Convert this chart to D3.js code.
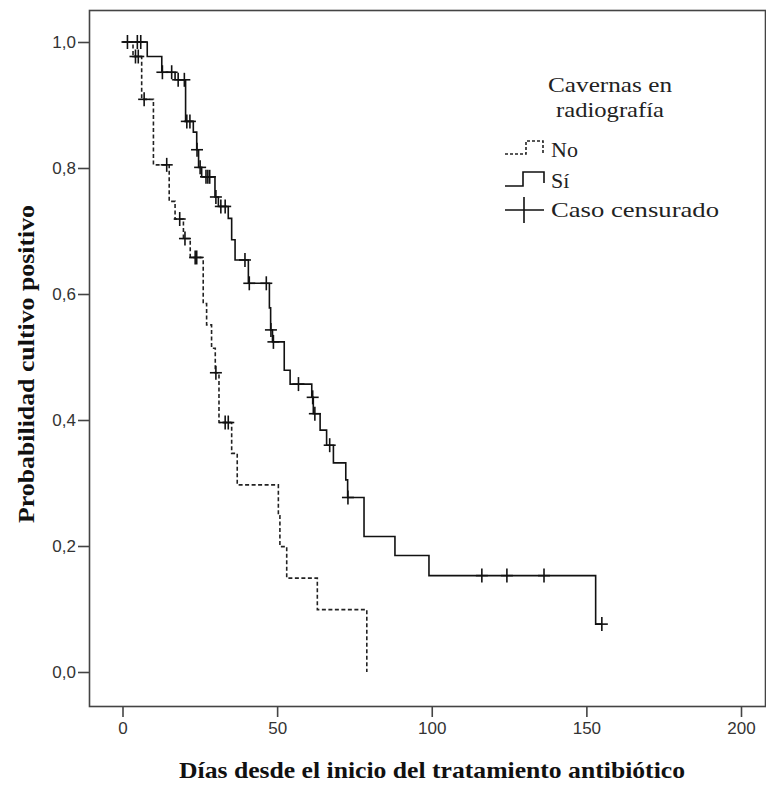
<!DOCTYPE html>
<html>
<head>
<meta charset="utf-8">
<script src="https://cdn.jsdelivr.net/npm/d3@7"></script>
<style>
  body { margin: 0; background: #fff; }
  svg { display: block; }
</style>
</head>
<body>
<div id="chart"></div>
<script>
// Kaplan-Meier steps (days, survival after the step)
const noTimes = [0, 3.4, 6.2, 10.0, 15.1, 17.0, 19.7, 21.9, 26.1, 27.2, 28.8, 30.0, 31.2, 35.3, 37.1, 50.4, 50.9, 53.1, 63.0, 79.0];
const noSurv  = [1.0, 0.977, 0.909, 0.805, 0.747, 0.719, 0.688, 0.658, 0.585, 0.551, 0.514, 0.475, 0.396, 0.347, 0.297, 0.248, 0.199, 0.149, 0.099, 0.0];
const noCensored = [4.2, 5.1, 7.0, 14.3, 18.5, 20.2, 23.5, 24.0, 30.2, 33.2, 34.2];

const siTimes = [0, 8.0, 12.7, 17.0, 20.4, 22.9, 24.0, 24.6, 25.6, 29.9, 31.0, 34.2, 35.3, 36.4, 40.7, 47.5, 47.9, 48.5, 52.3, 54.2, 61.2, 61.7, 63.9, 66.0, 68.2, 72.2, 72.8, 78.1, 88.1, 99.1, 153.0, 155.0];
const siSurv  = [1.0, 0.977, 0.952, 0.940, 0.874, 0.857, 0.829, 0.801, 0.786, 0.754, 0.739, 0.720, 0.686, 0.654, 0.617, 0.578, 0.543, 0.524, 0.479, 0.457, 0.436, 0.410, 0.384, 0.360, 0.332, 0.305, 0.277, 0.215, 0.185, 0.153, 0.076, 0.076];
const siCensored = [1.6, 4.8, 5.9, 12.9, 15.9, 18.0, 20.0, 20.8, 21.8, 24.1, 25.1, 27.0, 27.6, 28.2, 30.2, 31.8, 33.2, 39.6, 41.0, 46.5, 48.0, 48.8, 56.9, 61.5, 62.2, 67.0, 72.9, 116.2, 124.3, 136.3, 155.0];

const xTicks = [0, 50, 100, 150, 200];
const yTicks = [0, 0.2, 0.4, 0.6, 0.8, 1.0];

const legendTitle = ["Cavernas en", "radiografía"];
const legendLabels = ["No", "Sí", "Caso censurado"];

const width = 766, height = 785;
const frame = {left: 89, top: 10, right: 765, bottom: 706};

const x = d3.scaleLinear().domain([0, 200]).range([122.5, 741]);
const y = d3.scaleLinear().domain([0, 1]).range([672, 42]);

const sans = "'Liberation Sans', Arial, sans-serif";
const serif = "'Liberation Serif', 'Times New Roman', serif";

const svg = d3.select("#chart").append("svg")
    .attr("width", width)
    .attr("height", height);

// plot frame
svg.append("rect")
    .attr("x", frame.left + 0.5)
    .attr("y", frame.top + 0.5)
    .attr("width", frame.right - frame.left)
    .attr("height", frame.bottom - frame.top)
    .attr("fill", "none")
    .attr("stroke", "#444")
    .attr("stroke-width", 1.6);

const fmt = d => d3.format(".1f")(d).replace(".", ",");

// x axis
svg.append("g")
    .attr("transform", `translate(0,${frame.bottom + 1})`)
    .call(d3.axisBottom(x).tickValues(xTicks).tickSize(10).tickPadding(5))
    .call(g => g.select(".domain").remove())
    .call(g => g.selectAll("line").attr("stroke", "#444").attr("stroke-width", 1.6))
    .call(g => g.selectAll("text").attr("fill", "#333")
        .style("font-family", sans).style("font-size", "17px"));

// y axis
svg.append("g")
    .attr("transform", `translate(${frame.left},0)`)
    .call(d3.axisLeft(y).tickValues(yTicks).tickFormat(fmt).tickSize(11).tickPadding(2))
    .call(g => g.select(".domain").remove())
    .call(g => g.selectAll("line").attr("stroke", "#444").attr("stroke-width", 1.6))
    .call(g => g.selectAll("text").attr("fill", "#333")
        .style("font-family", sans).style("font-size", "17px"));

// axis titles
svg.append("text")
    .attr("x", 432).attr("y", 778)
    .attr("text-anchor", "middle")
    .attr("textLength", 506).attr("lengthAdjust", "spacingAndGlyphs")
    .style("font-family", serif)
    .style("font-weight", "bold").style("font-size", "24px")
    .attr("fill", "#111")
    .text("Días desde el inicio del tratamiento antibiótico");

svg.append("text")
    .attr("transform", "translate(34,364) rotate(-90)")
    .attr("text-anchor", "middle")
    .attr("textLength", 318).attr("lengthAdjust", "spacingAndGlyphs")
    .style("font-family", serif)
    .style("font-weight", "bold").style("font-size", "24px")
    .attr("fill", "#111")
    .text("Probabilidad cultivo positivo");

// step curves
const line = d3.line()
    .x(d => x(d[0]))
    .y(d => y(d[1]))
    .curve(d3.curveStepAfter);

const noData = noTimes.map((t, i) => [t, noSurv[i]]);
const siData = siTimes.map((t, i) => [t, siSurv[i]]);

svg.append("path")
    .attr("d", line(noData))
    .attr("fill", "none")
    .attr("stroke", "#222")
    .attr("stroke-width", 1.6)
    .attr("stroke-dasharray", "4,2.5");

svg.append("path")
    .attr("d", line(siData))
    .attr("fill", "none")
    .attr("stroke", "#111")
    .attr("stroke-width", 1.6);

// survival value at a censoring time
function survAt(times, surv, t) {
  const i = d3.bisectRight(times, t) - 1;
  return surv[Math.max(0, i)];
}

function drawCensors(times, surv, cens) {
  const g = svg.append("g").attr("stroke", "#111").attr("stroke-width", 1.6);
  cens.forEach(t => {
    const cx = x(t), cy = y(survAt(times, surv, t));
    g.append("line").attr("x1", cx - 6).attr("x2", cx + 6).attr("y1", cy).attr("y2", cy);
    g.append("line").attr("x1", cx).attr("x2", cx).attr("y1", cy - 7).attr("y2", cy + 7);
  });
}
drawCensors(noTimes, noSurv, noCensored);
drawCensors(siTimes, siSurv, siCensored);

// legend
const lg = svg.append("g");
const titleLen = [124, 108];
legendTitle.forEach((t, i) => {
  lg.append("text")
    .attr("x", 610).attr("y", 92 + i * 25)
    .attr("text-anchor", "middle")
    .attr("textLength", titleLen[i]).attr("lengthAdjust", "spacingAndGlyphs")
    .style("font-family", serif).style("font-size", "22px")
    .attr("fill", "#222")
    .text(t);
});

const lx = 505;
// dashed step symbol
lg.append("path")
    .attr("d", `M${lx},154 H${lx + 21} V141 H${lx + 38} V153`)
    .attr("fill", "none").attr("stroke", "#222").attr("stroke-width", 1.6)
    .attr("stroke-dasharray", "3,2");
// solid step symbol
lg.append("path")
    .attr("d", `M${lx},186 H${lx + 18} V172 H${lx + 39} V183`)
    .attr("fill", "none").attr("stroke", "#111").attr("stroke-width", 1.6);
// censor symbol
lg.append("path")
    .attr("d", `M${lx},210 H${lx + 39} M${lx + 19},197 V223`)
    .attr("fill", "none").attr("stroke", "#111").attr("stroke-width", 1.6);

const labelY = [157, 188, 217];
const labelLen = [null, null, 168];
legendLabels.forEach((t, i) => {
  const txt = lg.append("text")
    .attr("x", 551).attr("y", labelY[i])
    .style("font-family", serif).style("font-size", "22px")
    .attr("fill", "#222")
    .text(t);
  if (labelLen[i]) txt.attr("textLength", labelLen[i]).attr("lengthAdjust", "spacingAndGlyphs");
});
</script>
</body>
</html>
